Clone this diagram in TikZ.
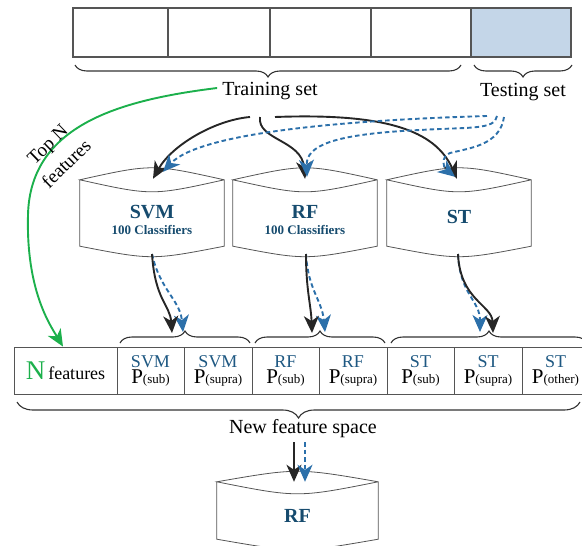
\documentclass[tikz,border=0pt]{standalone}
\usepackage{fontspec}
\setmainfont{Liberation Serif}
\usetikzlibrary{arrows.meta,decorations.pathreplacing,calc}
\definecolor{arrblue}{RGB}{44,112,170}
\definecolor{txtblue}{RGB}{22,75,110}
\definecolor{hdrblue}{RGB}{30,88,130}
\definecolor{grn}{RGB}{28,176,76}
\definecolor{testfill}{RGB}{196,214,232}
\definecolor{linegray}{RGB}{85,85,85}
\tikzset{
  barcell/.style={draw=linegray, line width=1.2pt, fill=white, minimum height=49pt, inner sep=0pt},
  cylbody/.style={inner sep=0pt, minimum width=144pt, minimum height=66pt},
  cylline/.style={draw=linegray, line width=0.8pt},
  cyltitle/.style={anchor=base, text=txtblue, font=\fontsize{20}{20}\selectfont\bfseries, inner sep=0pt},
  cylsub/.style={anchor=base, text=txtblue, font=\fontsize{13}{13}\selectfont\bfseries, inner sep=0pt},
  tcell/.style={draw=linegray, line width=0.8pt, minimum height=47pt, inner sep=0pt, align=center, font=\fontsize{18}{16}\selectfont},
  tip/.style={-{Stealth[length=17pt,width=15pt,inset=5pt]}},
  blk/.style={draw=black!85, line width=1.9pt, tip},
  blu/.style={draw=arrblue, line width=1.9pt, dash pattern=on 4.5pt off 3pt, tip},
  brc/.style={draw=black!80, line width=1.1pt, decorate},
  lbl/.style={font=\fontsize{20}{20}\selectfont, inner sep=1pt},
}
\newcommand\cylout[1]{\draw[cylline] (#1.north west) -- (#1.south west)
  .. controls ($(#1.south)+(0,14)$) .. (#1.south east) -- (#1.north east)
  .. controls ($(#1.north)+(0,-16)$) .. (#1.north west)
  .. controls ($(#1.north)+(0,16)$) .. (#1.north east);}
\newcommand\pcell[2]{{\color{hdrblue}#1}\\{\fontsize{21}{16}\selectfont P}{\fontsize{13}{16}\selectfont(#2)}}
\begin{document}
\begin{tikzpicture}[x=1pt,y=-1pt]
\useasboundingbox (0,0) rectangle (582,546);
% data bar
\node[barcell, minimum width=95pt] (b1) at (120.5,32.5) {};
\node[barcell, minimum width=102pt] (b2) at (219,32.5) {};
\node[barcell, minimum width=101pt] (b3) at (320.5,32.5) {};
\node[barcell, minimum width=100pt] (b4) at (421,32.5) {};
\node[barcell, minimum width=100pt, fill=testfill] (b5) at (521,32.5) {};
\draw[brc, decoration={brace,mirror,amplitude=12pt}] (75,65) -- (461,65);
\draw[brc, decoration={brace,mirror,amplitude=12pt}] (474,65) -- (572,65);
\node[lbl] (train) at (270,91) {Training set};
\node[lbl] (test) at (523,92) {Testing set};
% cylinders
\node[cylbody] (svm) at (152,213) {};
\node[cylbody] (rf) at (305,213) {};
\node[cylbody] (st) at (459,213) {};
\cylout{svm}\cylout{rf}\cylout{st}
\node[cyltitle] (svmt) at (152,218) {SVM};
\node[cylsub] (svms) at (152,234) {100 Classifiers};
\node[cyltitle] (rft) at (305,218) {RF};
\node[cylsub] (rfs) at (305,234) {100 Classifiers};
\node[cyltitle] (stt) at (459,223) {ST};
% table
\node[tcell, minimum width=103pt] (nf) at (65.5,370.5) {{\color{grn}\fontsize{27}{27}\selectfont N}\,features};
\node[tcell, minimum width=67pt] (c1) at (150.5,370.5) {\pcell{SVM}{sub}};
\node[tcell, minimum width=68pt] (c2) at (218,370.5) {\pcell{SVM}{supra}};
\node[tcell, minimum width=67pt] (c3) at (285.5,370.5) {\pcell{RF}{sub}};
\node[tcell, minimum width=68pt] (c4) at (353,370.5) {\pcell{RF}{supra}};
\node[tcell, minimum width=67pt] (c5) at (420.5,370.5) {\pcell{ST}{sub}};
\node[tcell, minimum width=68pt] (c6) at (488,370.5) {\pcell{ST}{supra}};
\node[tcell, minimum width=67pt] (c7) at (555.5,370.5) {\pcell{ST}{other}};
\draw[brc, decoration={brace,amplitude=12pt}] (120,343) -- (250,343);
\draw[brc, decoration={brace,amplitude=12pt}] (255,343) -- (385,343);
\draw[brc, decoration={brace,amplitude=12pt}] (391,343) -- (587,343);
\draw[brc, decoration={brace,mirror,amplitude=16pt}] (17,402) -- (580,402);
\node[lbl] (nfs) at (303,429) {New feature space};
% final RF
\node[cylbody, minimum width=161pt, minimum height=57pt] (rfb) at (297.5,510.5) {};
\draw[cylline] (rfb.north west) -- (rfb.south west)
  .. controls ($(rfb.south)+(0,14)$) .. (rfb.south east) -- (rfb.north east)
  .. controls ($(rfb.north)+(0,-14)$) .. (rfb.north west)
  .. controls ($(rfb.north)+(0,16)$) .. (rfb.north east);
\node[cyltitle] (rfbt) at (297.5,522) {RF};
% top N features
\draw[draw=grn, line width=1.9pt, tip]
  ([shift={(-4,-3)}]train.west) .. controls (120,100) and (30,125) .. (28,215)
  .. controls (26,290) and (50,325) .. ([xshift=-2.5]nf.north);
\node[lbl, rotate=44, align=center, font=\fontsize{19}{27}\selectfont] (topn) at (57,154) {Top N\\features};
% training arrows
\coordinate (s1) at (250,117);
\coordinate (s2) at (260,117);
\coordinate (s3) at (275,117);
\coordinate (u1) at (487,116);
\coordinate (u2) at (497,116);
\coordinate (u3) at (504,117);
\draw[blk] (s1) .. controls (215,120) and (172,145) .. ([shift={(1,-1)}]svm.north);
\draw[blk] (s2) .. controls (257,140) and (302,140) .. ([shift={(0,-1)}]rf.north);
\draw[blk] (s3) .. controls (385,113) and (435,130) .. ([shift={(-2,-1)}]st.north);
\draw[blu] (u1) .. controls (350,120) and (200,132) .. ([shift={(11,-8)}]svm.north);
\draw[blu] (u2) .. controls (495,130) and (470,127) .. (420,130)
  .. controls (335,134) and (306,145) .. ([shift={(2,-3)}]rf.north);
\draw[blu] (u3) .. controls (500,145) and (470,148) .. (450,153)
  .. controls (440,157) and (444,168) .. ([shift={(-4,-3)}]st.north);
% classifier outputs
\coordinate (o1) at (152,254);
\coordinate (o2) at (306,254);
\coordinate (o3) at (458,254);
\draw[blu] (o1) .. controls (160,290) and (180,300) .. (183,332);
\draw[blk] (o1) .. controls (155,300) and (170,305) .. (172,333);
\draw[blu] (o2) .. controls (308,290) and (322,300) .. (325,332);
\draw[blk] (o2) .. controls (306,290) and (311,305) .. (312,333);
\draw[blu] (o3) .. controls (460,295) and (480,300) .. (480,332);
\draw[blk] (o3) .. controls (460,300) and (492,305) .. (493,333);
% final arrows
\coordinate (f1) at (294,442);
\coordinate (f2) at (305,442);
\draw[blk] (f1) -- ([xshift=-3.5]rfb.north);
\draw[blu] (f2) -- ([xshift=7.5]rfb.north);
\end{tikzpicture}
\end{document}
